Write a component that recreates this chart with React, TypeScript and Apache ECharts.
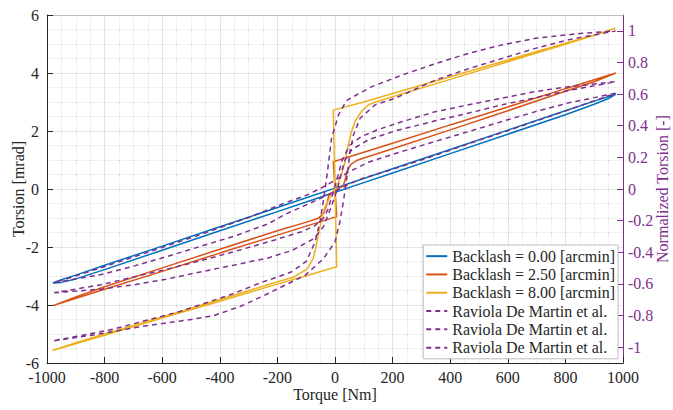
import React, { useEffect, useRef } from "react";
import * as echarts from "echarts";

type Pt = [number, number];

// ---- Simulation loops (Torsion [mrad] vs Torque [Nm]) ----
// Backlash = 0.00
const b0Lower: Pt[] = [
  [-980, -3.24], [-950, -3.22], [-900, -3.1], [-800, -2.78], [-600, -2.11], [-400, -1.44],
  [-200, -0.78], [-100, -0.45], [0, -0.11], [100, 0.22], [200, 0.55], [400, 1.22],
  [600, 1.89], [800, 2.56], [900, 2.92], [950, 3.12], [975, 3.27],
];
const b0Upper: Pt[] = [
  [975, 3.27], [950, 3.19], [900, 3.03], [800, 2.7], [600, 2.03], [400, 1.36], [200, 0.7],
  [100, 0.36], [0, 0.03], [-100, -0.3], [-200, -0.64], [-400, -1.3], [-600, -1.97],
  [-800, -2.63], [-900, -2.97], [-950, -3.13], [-980, -3.24],
];
// Backlash = 2.50
const b25Outer: Pt[] = [
  [-979, -4.02], [-800, -3.46], [-600, -2.84], [-400, -2.21], [-200, -1.59], [-100, -1.28],
  [0, -0.97], [6, -0.95], [0, 0.0], [-6, 0.94], [100, 1.27], [200, 1.58], [400, 2.21],
  [600, 2.83], [800, 3.46], [900, 3.77], [975, 4.0],
];
const b25Inner: Pt[] = [
  [975, 4.0], [900, 3.7], [800, 3.37], [600, 2.7], [400, 2.04], [200, 1.39], [100, 1.07],
  [75, 0.98], [55, 0.85], [41, 0.6], [35, 0.3], [28, 0.1], [0, -0.05], [-21, -0.2],
  [-29, -0.55], [-40, -0.85], [-60, -1.02], [-104, -1.16], [-174, -1.36], [-200, -1.44],
  [-400, -2.08], [-600, -2.72], [-800, -3.37], [-900, -3.72], [-979, -4.02],
];
// Backlash = 8.00
const b8Outer: Pt[] = [
  [-981, -5.57], [-800, -5.04], [-600, -4.45], [-400, -3.87], [-200, -3.28], [-100, -2.99],
  [0, -2.7], [6, -2.68], [0, 0.0], [-6, 2.72], [100, 3.0], [200, 3.29], [400, 3.87],
  [600, 4.45], [800, 5.03], [900, 5.31], [974, 5.54],
];
const b8Inner: Pt[] = [
  [974, 5.54], [900, 5.3], [800, 4.99], [600, 4.39], [400, 3.78], [200, 3.18], [140, 3.0],
  [116, 2.9], [93, 2.69], [72, 2.38], [58, 2.0], [46, 1.5], [35, 0.95], [20, 0.4], [0, 0.0],
  [-18, -0.3], [-34, -0.6], [-45, -0.95], [-57, -1.55], [-66, -2.0], [-76, -2.4],
  [-97, -2.76], [-144, -3.04], [-200, -3.2], [-400, -3.81], [-600, -4.41], [-800, -5.0],
  [-900, -5.3], [-981, -5.57],
];

// ---- Raviola De Martin et al. (Normalized Torsion [-]) ----
const p1Upper: Pt[] = [
  [974, 0.605], [812, 0.545], [696, 0.489], [580, 0.427], [464, 0.363], [348, 0.301],
  [232, 0.237], [116, 0.169], [50, 0.11], [0, 0.055], [-50, 0.004], [-100, -0.04],
  [-174, -0.088], [-300, -0.18], [-464, -0.286], [-650, -0.4], [-820, -0.502], [-975, -0.592],
];
const p1Lower: Pt[] = [
  [-975, -0.592], [-812, -0.541], [-696, -0.486], [-580, -0.425], [-464, -0.361],
  [-348, -0.297], [-232, -0.22], [-174, -0.161], [-116, -0.114], [-50, -0.059], [0, -0.015],
  [50, 0.033], [100, 0.07], [174, 0.11], [300, 0.183], [464, 0.286], [650, 0.4],
  [820, 0.506], [974, 0.605],
];
const p2Upper: Pt[] = [
  [974, 0.678], [812, 0.647], [696, 0.616], [580, 0.574], [464, 0.532], [348, 0.489],
  [232, 0.425], [150, 0.376], [90, 0.33], [50, 0.275], [25, 0.183], [10, 0.083], [0, 0.018],
  [-12, -0.055], [-25, -0.13], [-40, -0.185], [-70, -0.232], [-116, -0.27], [-209, -0.322],
  [-348, -0.395], [-464, -0.452], [-580, -0.505], [-696, -0.555], [-812, -0.605], [-975, -0.656],
];
const p2Lower: Pt[] = [
  [-975, -0.656], [-812, -0.633], [-696, -0.605], [-580, -0.568], [-464, -0.523],
  [-348, -0.48], [-232, -0.436], [-150, -0.389], [-74, -0.315], [-40, -0.238], [-16, -0.127],
  [0, -0.046], [12, 0.026], [23, 0.11], [35, 0.183], [58, 0.248], [116, 0.312], [209, 0.367],
  [348, 0.431], [464, 0.48], [580, 0.532], [696, 0.577], [812, 0.623], [974, 0.678],
];
const p3Upper: Pt[] = [
  [974, 0.999], [850, 0.983], [696, 0.953], [580, 0.911], [464, 0.858], [348, 0.792],
  [232, 0.72], [128, 0.647], [81, 0.601], [40, 0.559], [12, 0.468], [-12, 0.321],
  [-25, 0.128], [-35, -0.009], [-41, -0.081], [-52, -0.207], [-70, -0.339], [-100, -0.458],
  [-150, -0.523], [-190, -0.55], [-250, -0.587], [-364, -0.669], [-538, -0.774],
  [-770, -0.886], [-975, -0.959],
];
const p3Lower: Pt[] = [
  [-975, -0.959], [-850, -0.926], [-654, -0.864], [-500, -0.825], [-422, -0.801],
  [-330, -0.743], [-248, -0.675], [-170, -0.605], [-104, -0.546], [-40, -0.44], [0, -0.334],
  [17, -0.207], [29, -0.081], [41, 0.068], [52, 0.237], [64, 0.341], [87, 0.447],
  [139, 0.532], [209, 0.574], [348, 0.688], [464, 0.761], [580, 0.825], [696, 0.889],
  [812, 0.944], [974, 0.999],
];

const seriesNames = [
  "Backlash = 0.00 [arcmin]",
  "Backlash = 2.50 [arcmin]",
  "Backlash = 8.00 [arcmin]",
  "Raviola De Martin et al. #1",
  "Raviola De Martin et al. #2",
  "Raviola De Martin et al. #3",
];
const rightTicks = [-1, -0.8, -0.6, -0.4, -0.2, 0, 0.2, 0.4, 0.6, 0.8, 1];

const FONT = "Liberation Serif";
const INK = "#262626";
const PURPLE = "#7E2F8E";

export default function App() {
  const ref = useRef<HTMLDivElement>(null);
  useEffect(() => {
    if (!ref.current) return;
    const chart = echarts.init(ref.current, undefined, { renderer: "svg" });
    const solid = (name: string, color: string, data: Pt[]) => ({
      name,
      type: "line",
      data,
      symbol: "none",
      xAxisIndex: 0,
      yAxisIndex: 0,
      lineStyle: { color, width: 1.5 },
      itemStyle: { color },
      emphasis: { disabled: true },
    });
    const dashed = (name: string, data: Pt[]) => ({
      name,
      type: "line",
      data,
      symbol: "none",
      xAxisIndex: 0,
      yAxisIndex: 1,
      lineStyle: { color: PURPLE, width: 1.5, type: [5, 4] },
      itemStyle: { color: PURPLE },
      emphasis: { disabled: true },
    });
    const axisLabel = { fontFamily: FONT, fontSize: 16, color: INK };
    const dotStyle = { color: "#bdbdbd", width: 1, type: [1, 13.5] };
    chart.setOption({
      animation: false,
      backgroundColor: "#ffffff",
      grid: { left: 47, right: 50, top: 15, bottom: 47, containLabel: false },
      legend: {
        orient: "vertical",
        right: 55,
        top: 245,
        itemWidth: 21,
        itemHeight: 10,
        itemGap: 0,
        padding: [2, 3, 2, 2],
        backgroundColor: "#ffffff",
        borderColor: "#bdbdbd",
        borderWidth: 1,
        borderRadius: 0,
        itemStyle: { opacity: 0 },
        textStyle: { fontFamily: FONT, fontSize: 16, color: INK, lineHeight: 18.3 },
        formatter: (n: string) => n.replace(/ #\d$/, ""),
        data: seriesNames,
      },
      xAxis: [
        {
          type: "value",
          min: -1000,
          max: 1000,
          interval: 200,
          position: "bottom",
          axisLine: { show: true, onZero: false, lineStyle: { color: INK, width: 1 } },
          axisTick: { show: true, inside: true, length: 6, lineStyle: { color: INK } },
          axisLabel: { ...axisLabel, margin: 6, formatter: (v: number) => String(v) },
          splitLine: { show: true, lineStyle: { color: "#e6e6e6", width: 1 } },
          minorTick: { show: false, splitNumber: 4 },
          minorSplitLine: { show: true, lineStyle: { color: "#f2f2f2", width: 1 } },
          z: 0,
        },
        {
          type: "value",
          min: -1000,
          max: 1000,
          position: "top",
          axisLine: { show: true, onZero: false, lineStyle: { color: "#bdbdbd", width: 1 } },
          axisTick: { show: false },
          axisLabel: { show: false },
          splitLine: { show: false },
        },
        {
          type: "value",
          min: -1000,
          max: 1000,
          interval: 200,
          position: "bottom",
          axisLine: { show: false },
          axisTick: { show: false },
          axisLabel: { show: false },
          splitLine: { show: true, lineStyle: dotStyle },
          minorTick: { show: false, splitNumber: 4 },
          minorSplitLine: { show: true, lineStyle: dotStyle },
          z: 0,
        },
      ],
      yAxis: [
        {
          type: "value",
          min: -6,
          max: 6,
          interval: 2,
          position: "left",
          axisLine: { show: true, onZero: false, lineStyle: { color: INK, width: 1 } },
          axisTick: { show: true, inside: true, length: 6, lineStyle: { color: INK } },
          axisLabel: { ...axisLabel, margin: 8 },
          splitLine: { show: true, lineStyle: { color: "#e6e6e6", width: 1 } },
          minorTick: { show: false, splitNumber: 4 },
          minorSplitLine: { show: true, lineStyle: { color: "#f2f2f2", width: 1 } },
        },
        {
          type: "value",
          min: -1.1,
          max: 1.1,
          position: "right",
          axisLine: { show: true, onZero: false, lineStyle: { color: PURPLE, width: 1 } },
          axisTick: {
            show: true,
            inside: true,
            length: 6,
            lineStyle: { color: PURPLE },
            customValues: rightTicks,
          },
          axisLabel: {
            fontFamily: FONT,
            fontSize: 16,
            color: PURPLE,
            margin: 5,
            customValues: rightTicks,
            formatter: (v: number) => String(Number(v.toFixed(1))),
          },
          splitLine: { show: false },
        },
      ],
      graphic: [
        {
          type: "text",
          x: 18,
          y: 189,
          rotation: Math.PI / 2,
          style: {
            text: "Torsion [mrad]",
            fontFamily: FONT,
            fontSize: 16,
            fill: INK,
            align: "center",
            verticalAlign: "middle",
          },
        },
        {
          type: "text",
          x: 335,
          y: 394,
          style: {
            text: "Torque [Nm]",
            fontFamily: FONT,
            fontSize: 16,
            fill: INK,
            align: "center",
            verticalAlign: "middle",
          },
        },
        {
          type: "text",
          x: 662,
          y: 189,
          rotation: Math.PI / 2,
          style: {
            text: "Normalized Torsion [-]",
            fontFamily: FONT,
            fontSize: 16,
            fill: PURPLE,
            align: "center",
            verticalAlign: "middle",
          },
        },
      ],
      series: [
        solid(seriesNames[0], "#0072BD", [...b0Lower, ...b0Upper]),
        solid(seriesNames[1], "#D95319", [...b25Outer, ...b25Inner]),
        solid(seriesNames[2], "#EDB120", [...b8Outer, ...b8Inner]),
        dashed(seriesNames[3], [...p1Lower, ...p1Upper]),
        dashed(seriesNames[4], [...p2Lower, ...p2Upper]),
        dashed(seriesNames[5], [...p3Lower, ...p3Upper]),
      ],
    });
    return () => chart.dispose();
  }, []);
  return (
    <div
      ref={ref}
      style={{ position: "fixed", left: 0, top: 0, width: 673, height: 410 }}
    />
  );
}
